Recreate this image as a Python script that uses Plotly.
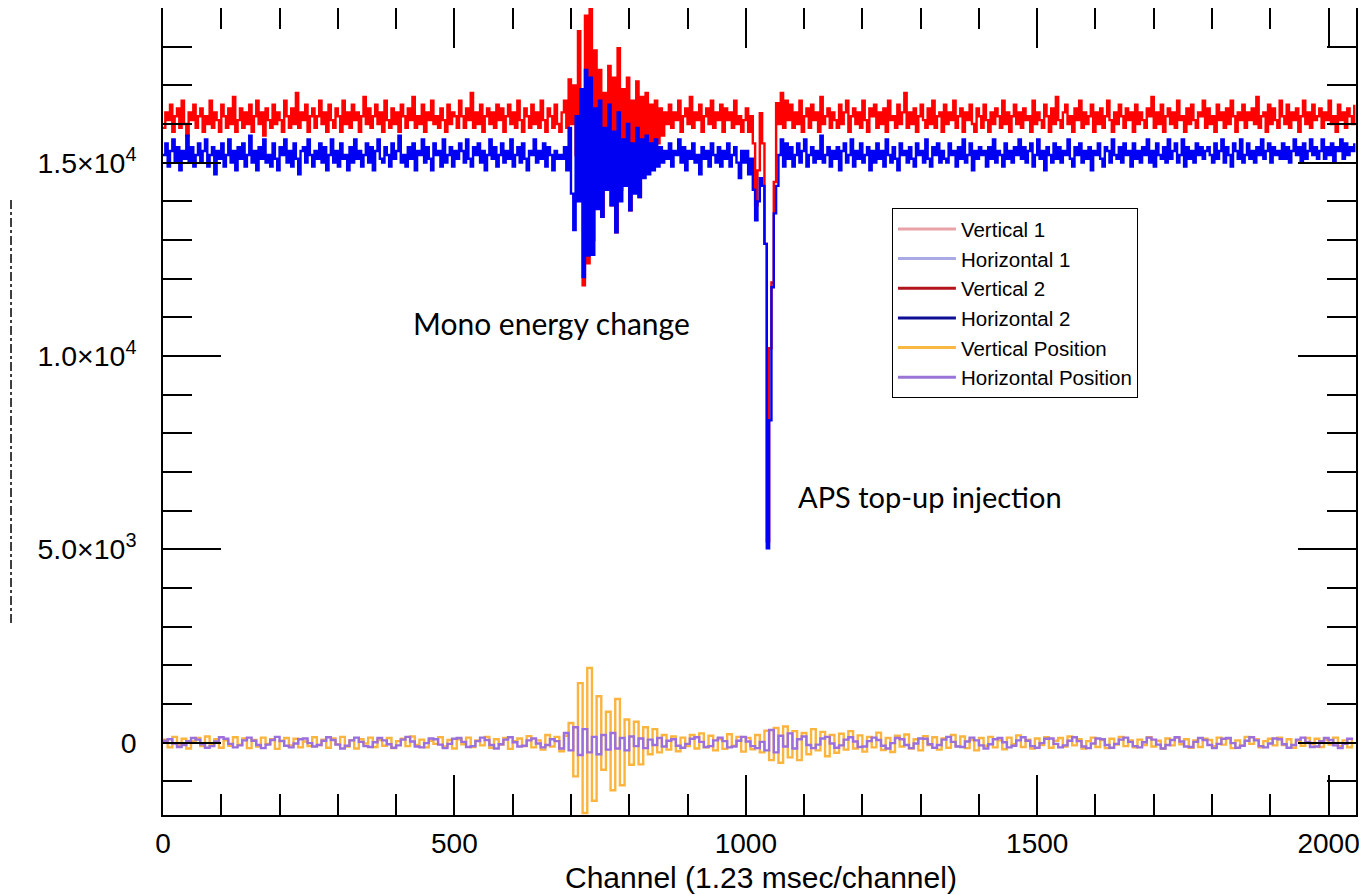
import plotly.graph_objects as go

# Readings of the two beam-intensity traces, one value every 4 channels
vertical = [
    15900,16300,16100,16500,15800,16200,16400,15900,16600,16000,15700,16300,16100,16500,15900,16200,
    16400,15800,16200,16000,16600,15900,16300,16100,15800,16500,16200,15900,16400,16000,16700,15800,
    16100,16400,15900,16300,16000,16500,15800,16200,16600,16000,16300,15700,16400,16100,15900,16500,
    16000,16300,16100,15800,16600,16200,15900,16400,16000,16800,15900,16300,16100,16500,15800,16200,
    16400,15900,16200,16600,16000,16300,15800,16500,16100,15900,16400,16200,15800,16600,16000,16300,
    15900,16500,16100,16300,15800,16200,16700,16000,16400,15900,16200,16500,16000,16300,15800,16600,
    16100,15900,16400,16000,16300,15800,16500,16200,15900,16400,16100,16700,15900,16200,16000,16500,
    15800,16300,16100,16600,16000,16200,15900,16400,16100,15800,16500,16000,16300,16200,15900,16600,
    16200,15900,16400,16100,16800,15900,16300,16000,16500,15800,16200,16400,16000,16300,15900,16500,
    16100,16400,15800,16200,16500,16000,16300,15900,16600,16100,15800,16400,16200,15900,16500,16000,
    16300,15900,16600,16100,15800,16400,16200,15900,16500,16000,15800,16300,16600,15900,17150,16000,
    17000,15200,18400,14500,11830,18800,12400,19000,13000,17900,14200,17400,13600,16800,14800,17500,
    13900,17200,13200,17960,14300,16900,14600,17200,13770,16600,14500,17100,14110,16700,14900,16800,
    15100,16500,15300,16600,15500,16400,15700,16300,16000,16500,15900,16300,16100,16600,15800,16200,
    16400,16000,16700,15900,16300,16100,16500,15800,16200,16400,16000,16600,15900,16300,16100,16500,
    15800,16400,16100,16300,15900,16600,16000,16200,15800,16100,16400,15800,16200,15500,13900,14800,
    16280,15500,12900,5200,10200,11900,14500,16540,16000,16800,15900,16600,16100,16500,15900,16300,
    16000,16600,15800,16200,16400,15900,16500,16100,16300,15800,16700,16000,16200,16400,15900,16300,
    16100,15900,16500,16000,16300,16600,15800,16200,16400,16000,16300,15900,16600,16100,15800,16400,
    16200,16500,15900,16300,16000,16400,15800,16600,16100,16200,15900,16500,16000,16300,16800,15900,
    16300,16000,16400,15800,16200,16500,16100,15900,16400,16000,16600,15900,16200,16300,15800,16500,
    16000,16300,16100,16600,15900,16200,16400,15800,16300,16100,16500,16000,15800,16400,16200,15900,
    16500,16100,15800,16300,16000,16400,16200,15900,16600,16000,16300,15800,16200,16500,16000,16300,
    15900,16400,16100,16200,15800,16600,16000,16300,16100,15900,16500,16200,15800,16400,16000,16700,
    16100,15900,16300,16500,16000,16200,15800,16400,16100,16600,15900,16300,16000,16200,16500,15800,
    16300,16000,16400,15900,16200,16600,16100,15800,16300,16000,16500,16200,15900,16400,16100,16300,
    15800,16500,16000,16300,16100,15900,16400,16200,16700,15900,16300,16000,16500,15800,16200,16400,
    16000,16300,15900,16600,16100,16200,15800,16400,16000,16500,16100,15900,16300,16200,16600,15900,
    16400,16000,16200,15800,16500,16100,16300,15900,16400,16000,16600,16200,15800,16300,16100,16500,
    15900,16300,16100,16400,16000,16700,15900,16200,16300,15800,16500,16000,16400,16100,15900,16600,
    16200,16000,16500,15900,16300,16100,16400,15800,16200,16600,16000,16300,15900,16500,16100,16200,
    16400,15900,16300,16100,16600,16000,16200,15800,16500,16100,16300,15900,16400,16200,16000,16500,
]

horizontal = [
    15200,15500,14900,15300,15600,15000,15400,14800,15300,15100,15700,15000,15400,14900,15200,15500,
    15000,15300,15600,14900,15200,15400,14700,15300,15100,15500,14900,15200,15600,15000,15300,14800,
    15400,15100,15500,14900,15200,15700,15000,15300,14800,15400,15100,15600,15000,15200,14900,15500,
    15100,14800,15400,15200,15600,15000,15300,14900,15500,15100,14700,15300,15400,15000,15600,15200,
    14900,15300,15100,15500,15000,15400,14800,15200,15600,15000,15300,14900,15500,15100,15200,14800,
    15400,15000,15600,15100,15300,14900,15200,15500,15000,15400,14800,15300,15600,15100,15000,15400,
    15200,14900,15500,15100,15300,15700,15000,15200,14900,15400,15100,15500,14800,15300,15200,15600,
    15000,15400,15100,14800,15500,15200,15300,14900,15600,15000,15200,15400,14900,15300,15100,15500,
    15300,15000,15600,15100,14900,15400,15200,15500,15000,15300,14800,15200,15600,15100,15400,14900,
    15200,15500,15000,15300,15100,15600,14900,15200,15400,15000,15500,15100,14800,15300,15200,15600,
    15000,15300,15100,15500,14900,15400,15200,14800,15300,15100,15200,15100,15400,14800,15900,14200,
    13260,16200,14000,16900,12040,17400,12600,17200,12620,16400,13800,16600,13600,15900,14300,16500,
    13900,15800,13200,16300,14000,15600,14400,16000,13770,15500,14200,15900,14110,15600,14600,15700,
    14700,15500,14800,15600,14900,15400,15000,15300,15100,15500,14900,15300,15200,15600,15000,15400,
    14800,15300,15100,15500,15000,15200,14700,15400,15100,15300,14900,15500,15200,15000,15400,14900,
    15300,15100,15500,14900,15200,15400,15000,14600,15300,15000,15300,14700,15100,14300,13510,14000,
    14600,14400,12900,5030,8340,11780,13690,14400,15200,15600,14900,15500,15100,15400,14900,15200,
    15500,15000,15300,15600,14900,15200,15400,15000,15300,15100,15700,15000,15200,15400,14900,15300,
    15100,15400,14800,15300,15500,15000,15200,15600,14900,15300,15100,15500,15000,15200,15400,14800,
    15300,15000,15500,15100,15300,14900,15600,15200,15000,15400,15100,14800,15500,15200,15300,15000,
    15400,15100,14900,15500,15200,15300,15000,15600,15100,14900,15400,15200,15500,15000,15300,15100,
    15000,15500,15200,15300,14900,15400,15100,15600,15000,15200,15500,14800,15300,15100,15400,15200,
    15300,14900,15400,15100,15600,15000,15300,15200,14900,15500,15100,15300,15000,15400,15200,15600,
    15100,15400,15000,15300,15500,14900,15200,15600,15100,15300,14800,15400,15200,15000,15500,15100,
    15400,15000,15300,15200,15600,15100,14900,15400,15200,15500,15000,15300,15100,15400,14800,15300,
    15200,15500,15100,14900,15400,15300,15000,15600,15200,15100,15400,15000,15500,15200,15300,14900,
    15500,15100,15300,15000,15400,15200,15600,15000,15300,14900,15500,15200,15100,15400,15000,15600,
    15100,15300,15500,15000,15200,15600,14900,15400,15100,15300,15000,15500,15200,15400,15100,15300,
    15400,15200,15000,15500,15100,15300,15600,15000,15400,15200,14900,15500,15300,15100,15600,15000,
    15200,15500,15100,15300,15000,15400,15200,15600,15100,15300,15500,15000,15400,15200,15300,15100,
    15500,15100,15400,15000,15300,15600,15200,15400,15000,15500,15100,15300,15600,15200,15400,15100,
    15300,15600,15100,15400,15200,15500,15000,15400,15300,15600,15100,15500,15200,15400,15300,15500,
]

# Readings of the two position traces, one value every 8 channels
vertical_position = [
    80,-120,150,-60,100,-150,40,120,-90,160,-40,90,-130,60,-80,140,
    -50,110,-140,70,-100,130,-30,90,-160,50,120,-70,100,-120,30,-90,
    140,-60,80,-130,110,-40,150,-100,60,-150,90,-20,130,-110,70,-80,
    120,-140,40,100,-90,160,-60,80,-120,50,-30,140,-100,70,-150,90,
    -40,130,-110,60,-70,150,-130,90,-50,120,-160,40,110,-90,170,-120,
    60,-180,200,-100,150,-220,180,510,-870,1540,-1820,1930,-1500,1200,-700,800,
    -1230,1130,-1100,600,-570,540,-560,400,-300,350,-250,200,-180,160,-220,130,
    -90,200,-150,240,-120,180,-200,90,-160,220,-80,150,-230,120,-170,200,
    -250,310,-450,380,-520,420,-380,300,-450,250,-300,350,-200,280,-350,200,
    -260,230,-180,300,-150,190,-230,150,-120,260,-190,120,-240,180,-100,210,
    -150,90,-200,170,-60,140,-180,110,-130,200,-90,160,-140,70,-200,120,
    -80,150,-120,60,-170,130,-40,190,-110,80,-150,110,-60,140,-130,50,
    120,-100,160,-70,90,-150,40,130,-110,70,-140,100,-50,150,-90,60,
    -120,80,-60,140,-100,50,-150,110,-70,130,-40,90,-130,60,-110,100,
    70,-90,130,-50,110,-140,60,-80,150,-30,90,-120,40,100,-70,130,
    -60,90,-130,50,-80,120,-40,100,-110,70,-50,130,-90,60,-120,80,
]

horizontal_position = [
    50,90,-20,-110,-60,40,120,80,-40,-130,-90,30,140,100,-30,-120,
    -70,60,130,50,-60,-140,-50,70,150,40,-80,-120,-20,90,110,-10,
    -100,-60,50,140,70,-50,-150,-80,60,130,20,-90,-110,10,120,60,
    -40,-130,-70,80,150,30,-100,-120,-10,110,90,-50,-140,-30,100,120,
    20,-110,-90,40,130,70,-60,-150,-40,80,140,10,-100,-80,60,110,
    -20,-120,-60,90,40,-150,250,-200,400,-320,350,-250,150,-300,200,-180,
    250,-150,120,-200,160,-90,110,-140,80,-60,120,-100,50,90,-80,-130,
    -30,100,140,20,-110,-90,60,130,40,-120,-100,50,150,30,-90,-140,
    20,-200,330,-250,180,-100,240,-150,90,160,-60,-140,-50,110,150,-20,
    -130,-70,80,140,30,-110,-100,40,130,70,-80,-150,-10,120,90,-60,
    -140,-20,110,100,-40,-130,-60,80,150,20,-100,-110,30,130,60,-70,
    -150,-40,90,120,10,-120,-80,60,140,50,-90,-130,-10,100,110,-30,
    -120,-70,50,140,40,-100,-140,-20,110,90,-60,-130,-30,80,130,20,
    -90,-120,10,130,80,-50,-150,-60,70,140,30,-100,-110,20,120,70,
    -60,-140,-30,100,120,-10,-130,-80,50,140,60,-90,-120,-20,110,90,
    -40,-130,-60,80,130,20,-110,-100,40,120,70,-70,-140,-30,100,60,
]

channels_fine = [4 * i for i in range(len(vertical))]
channels_coarse = [8 * i for i in range(len(vertical_position))]

legend_names = ["Vertical 1", "Horizontal 1", "Vertical 2", "Horizontal 2",
                "Vertical Position", "Horizontal Position"]
legend_colors = ["#e8a3a8", "#a9a9e6", "#b3141c", "#0d0d96", "#f7b844", "#9a74d6"]

y_tickvals = [0, 5000, 10000, 15000]
y_ticktext = ["0", "5.0×10<sup>3</sup>", "1.0×10<sup>4</sup>", "1.5×10<sup>4</sup>"]

FONT = "Liberation Sans, Arial, sans-serif"

fig = go.Figure()

plot_series = [
    (channels_fine, vertical, "#ff0000", 2.4),
    (channels_fine, horizontal, "#0000f2", 2.4),
    (channels_coarse, vertical_position, "#fbb43e", 2.4),
    (channels_coarse, horizontal_position, "#9b6fdc", 2.4),
]
for xs, vals, col, w in plot_series:
    fig.add_trace(go.Scatter(x=xs, y=vals, mode="lines",
                             line=dict(color=col, width=w, shape="hv"),
                             showlegend=False, hoverinfo="skip"))

for i, (nm, col) in enumerate(zip(legend_names, legend_colors)):
    fig.add_trace(go.Scatter(x=[None], y=[None], mode="lines", name=nm,
                             line=dict(color=col, width=3), legendgroup=str(i)))

# The page body adds an 8px offset, so the figure is 8px smaller on each axis
fig.update_layout(
    width=1359, height=887,
    margin=dict(l=155, r=11, t=0, b=80),
    paper_bgcolor="white", plot_bgcolor="white",
    font=dict(family=FONT, color="black", size=28),
    showlegend=True,
    legend=dict(x=0.611, y=0.752, xanchor="left", yanchor="top",
                bordercolor="black", borderwidth=1, bgcolor="white",
                font=dict(family=FONT, size=20.5, color="black"),
                itemwidth=58, tracegroupgap=0),
    xaxis=dict(range=[0, 2047], showgrid=False, zeroline=False, automargin=False,
               showline=True, linecolor="black", linewidth=1.5, mirror="allticks",
               ticks="inside", ticklen=40, tickwidth=1.5, tickcolor="black",
               tickmode="linear", tick0=0, dtick=500, ticklabelstandoff=3,
               tickfont=dict(size=28),
               minor=dict(ticks="inside", ticklen=21, tickwidth=1.5, tickcolor="black",
                          tickmode="linear", tick0=0, dtick=100, showgrid=False)),
    yaxis=dict(range=[-1870, 19000], showgrid=False, zeroline=False, automargin=False,
               showline=True, linecolor="black", linewidth=1.5, mirror="allticks",
               ticks="inside", ticklen=58, tickwidth=1.5, tickcolor="black",
               tickmode="array", tickvals=y_tickvals, ticktext=y_ticktext,
               ticklabelstandoff=19, tickfont=dict(size=28.5),
               minor=dict(ticks="inside", ticklen=29, tickwidth=1.5, tickcolor="black",
                          tickmode="linear", tick0=0, dtick=1000, showgrid=False)),
)

fig.add_annotation(x=0.501, y=-0.078, xref="paper", yref="paper",
                   text="Channel (1.23 msec/channel)", showarrow=False,
                   xanchor="center", yanchor="middle",
                   font=dict(family=FONT, size=30, color="black"))

fig.add_annotation(x=667, y=10850, xref="x", yref="y", text="Mono energy change",
                   showarrow=False, font=dict(family="Lato, Open Sans, sans-serif", size=30, color="black"))
fig.add_annotation(x=1316, y=6354, xref="x", yref="y", text="APS top-up injection",
                   showarrow=False, font=dict(family="Lato, Open Sans, sans-serif", size=29, color="black"))

fig.add_shape(type="line", xref="paper", yref="paper", x0=-0.1274, x1=-0.1274,
              y0=0.238, y1=0.762, line=dict(color="black", width=1.5, dash="dashdot"))

fig.write_html("out.html")
